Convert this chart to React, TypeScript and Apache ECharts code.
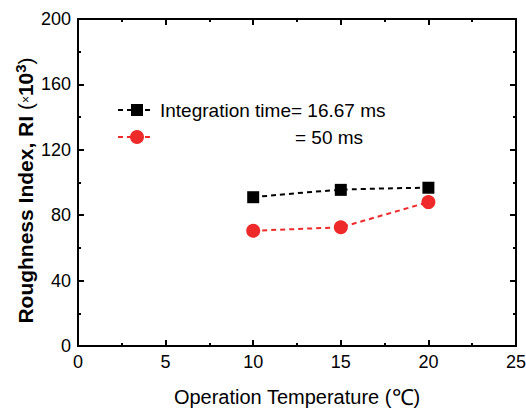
import React, { useEffect, useRef } from "react";
import * as echarts from "echarts";

const temps = [10, 15, 20];
const ri1667 = [91, 95.5, 96.8];
const ri50 = [70.5, 72.6, 88];
const xTicks = [0, 5, 10, 15, 20, 25];
const yTicks = [0, 40, 80, 120, 160, 200];
const legendLabels = ["Integration time= 16.67 ms", "= 50 ms"];

export default function App() {
  const ref = useRef<HTMLDivElement>(null);
  useEffect(() => {
    const chart = echarts.init(ref.current!, null, { renderer: "svg" });
    const font = "Liberation Sans, Arial, sans-serif";
    const axisCommon = {
      axisLine: { show: true, onZero: false, lineStyle: { color: "#000", width: 2 } },
      axisTick: { show: true, inside: true, length: 6, lineStyle: { color: "#000", width: 2 } },
      minorTick: { show: true, splitNumber: 2, length: 3, lineStyle: { color: "#000", width: 2 } },
      splitLine: { show: false },
    };
    chart.setOption({
      animation: false,
      backgroundColor: "#fff",
      grid: { left: 78, right: 10, top: 19, bottom: 62, containLabel: false, outerBoundsMode: "none" },
      xAxis: [
        {
          type: "value",
          min: xTicks[0],
          max: xTicks[xTicks.length - 1],
          interval: 5,
          ...axisCommon,
          axisLabel: { color: "#000", fontSize: 18, fontFamily: font, margin: 7 },
          name: "{t|Operation Temperature (}{c|℃}{t|)}",
          nameLocation: "middle",
          nameGap: 40,
          nameMoveOverlap: false,
          nameTextStyle: {
            rich: {
              t: { fontSize: 20, fontFamily: font, color: "#000" },
              c: { fontSize: 22, fontFamily: "Liberation Serif, serif", color: "#000" },
            },
          },
        },
        {
          type: "value",
          position: "top",
          min: xTicks[0],
          max: xTicks[xTicks.length - 1],
          interval: 5,
          ...axisCommon,
          axisLabel: { show: false },
        },
      ],
      yAxis: [
        {
          type: "value",
          min: yTicks[0],
          max: yTicks[yTicks.length - 1],
          interval: 40,
          ...axisCommon,
          axisLabel: { color: "#000", fontSize: 18, fontFamily: font, margin: 7 },
          name: "{b|Roughness Index, RI }{p|(}{x|×}{b|10}{s|3}{p|)}",
          nameLocation: "middle",
          nameGap: 40,
          nameMoveOverlap: false,
          nameRotate: 90,
          nameTextStyle: {
            padding: [0, 16, 0, 0],
            rich: {
              b: { fontSize: 21, fontWeight: "bold", fontFamily: font, color: "#000" },
              p: { fontSize: 21, fontFamily: font, color: "#000" },
              x: { fontSize: 12, fontFamily: font, color: "#000" },
              s: { fontSize: 15, fontWeight: "bold", fontFamily: font, color: "#000", verticalAlign: "top", padding: [0, 0, 10, 0] },
            },
          },
        },
        {
          type: "value",
          position: "right",
          min: yTicks[0],
          max: yTicks[yTicks.length - 1],
          interval: 40,
          ...axisCommon,
          axisLabel: { show: false },
        },
      ],
      series: [
        {
          type: "line",
          data: temps.map((t, i) => [t, ri1667[i]]),
          smooth: 0.3,
          symbol: "rect",
          symbolSize: 12,
          itemStyle: { color: "#000" },
          lineStyle: { color: "#000", type: [5, 4], width: 2 },
          z: 3,
        },
        {
          type: "line",
          data: temps.map((t, i) => [t, ri50[i]]),
          symbol: "circle",
          symbolSize: 14,
          itemStyle: { color: "#ee2a2a" },
          lineStyle: { color: "#ee2a2a", type: [5, 4], width: 2 },
          z: 2,
        },
      ],
      graphic: [
        { type: "line", shape: { x1: 118, y1: 110, x2: 154, y2: 110 }, style: { stroke: "#000", lineWidth: 2, lineDash: [5, 4] } },
        { type: "rect", shape: { x: 131, y: 104, width: 12, height: 12 }, style: { fill: "#000" } },
        { type: "text", x: 160, y: 110, style: { text: legendLabels[0], fontSize: 19, fontFamily: font, fill: "#000", verticalAlign: "middle" } },
        { type: "line", shape: { x1: 118, y1: 137, x2: 154, y2: 137 }, style: { stroke: "#ee2a2a", lineWidth: 2, lineDash: [5, 4] } },
        { type: "circle", shape: { cx: 137, cy: 137, r: 7 }, style: { fill: "#ee2a2a" } },
        { type: "text", x: 295, y: 137, style: { text: legendLabels[1], fontSize: 19, fontFamily: font, fill: "#000", verticalAlign: "middle" } },
      ],
    });
    return () => chart.dispose();
  }, []);
  return <div ref={ref} style={{ width: 526, height: 408, position: "absolute", left: 0, top: 0 }} />;
}
